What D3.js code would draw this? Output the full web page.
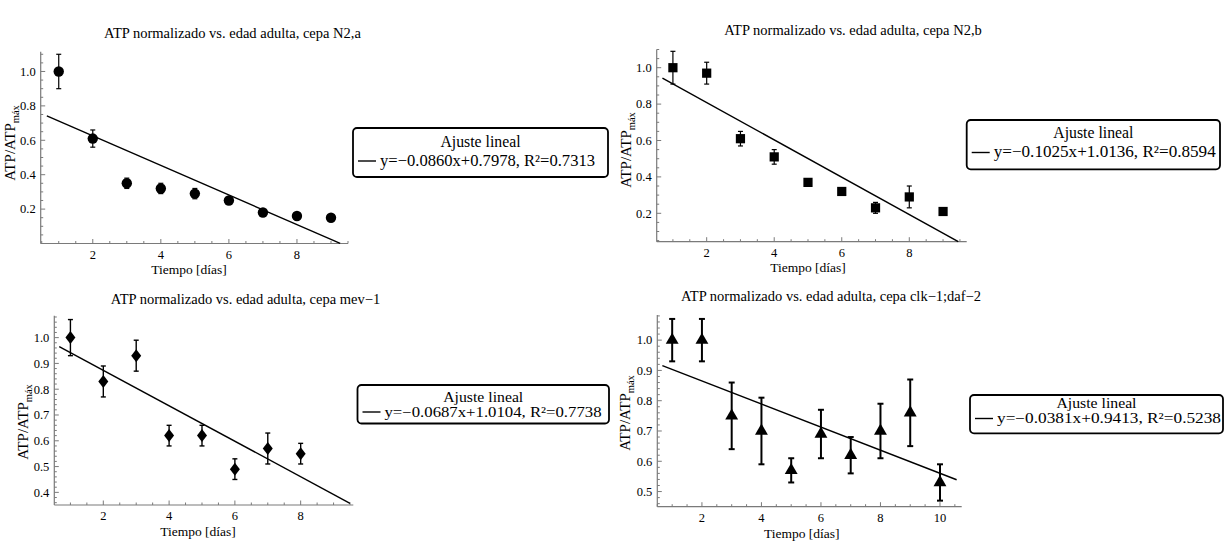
<!DOCTYPE html>
<html><head><meta charset="utf-8">
<script src="https://cdn.jsdelivr.net/npm/d3@7"></script>
<style>
body{margin:0;background:#fff}
svg text{font-family:"Liberation Serif","Times New Roman",serif;fill:#000}
</style>
</head><body>
<svg id="c" width="1225" height="542" font-family="Liberation Serif"></svg>
<script>
// ---------- DATA ----------
const titles = [
  "ATP normalizado vs. edad adulta, cepa N2,a",
  "ATP normalizado vs. edad adulta, cepa N2,b",
  "ATP normalizado vs. edad adulta, cepa mev\u22121",
  "ATP normalizado vs. edad adulta, cepa clk\u22121;daf\u22122"
];
const xLabel = "Tiempo [días]";
const yLabelMain = "ATP/ATP";
const yLabelSub = "máx";
const legendTitle = "Ajuste lineal";

const daysA = [1, 2, 3, 4, 5, 6, 7, 8, 9];
const atpA  = [1.00, 0.61, 0.35, 0.32, 0.29, 0.25, 0.18, 0.16, 0.15];
const errA  = [0.10, 0.05, 0.03, 0.03, 0.03, 0.015, 0.01, 0.01, 0.01];

const daysB = [1, 2, 3, 4, 5, 6, 7, 8, 9];
const atpB  = [1.00, 0.97, 0.61, 0.51, 0.37, 0.32, 0.23, 0.29, 0.21];
const errB  = [0.09, 0.06, 0.04, 0.04, 0.01, 0.01, 0.03, 0.06, 0.01];

const daysMev = [1, 2, 3, 4, 5, 6, 7, 8];
const atpMev  = [1.00, 0.83, 0.93, 0.62, 0.62, 0.49, 0.57, 0.55];
const errMev  = [0.07, 0.06, 0.06, 0.04, 0.04, 0.04, 0.06, 0.04];

const daysClk = [1, 2, 3, 4, 5, 6, 7, 8, 9, 10];
const atpClk  = [1.00, 1.00, 0.75, 0.70, 0.57, 0.69, 0.62, 0.70, 0.76, 0.53];
const errClk  = [0.07, 0.07, 0.11, 0.11, 0.04, 0.08, 0.06, 0.09, 0.11, 0.06];

const fitSlope     = [-0.0860, -0.1025, -0.0687, -0.0381];
const fitIntercept = [0.7978, 1.0136, 1.0104, 0.9413];
const fitR2        = [0.7313, 0.8594, 0.7738, 0.5238];
const fitSlopeText = ["\u22120.0860", "\u22120.1025", "\u22120.0687", "\u22120.0381"];
const fitInterText = ["0.7978", "1.0136", "1.0104", "0.9413"];
const fitR2Text    = ["0.7313", "0.8594", "0.7738", "0.5238"];

const xTicksA = [2, 4, 6, 8];
const xTicksB = [2, 4, 6, 8, 10];
const yTicksA = [0.2, 0.4, 0.6, 0.8, 1.0];
const yTicksB = [0.4, 0.5, 0.6, 0.7, 0.8, 0.9, 1.0];
const yTicksC = [0.5, 0.6, 0.7, 0.8, 0.9, 1.0];

// ---------- LAYOUT ----------
const panels = [
  { days: daysA, vals: atpA, errs: errA, xTicks: xTicksA, yTicks: yTicksA,
    xDom: [0.47, 9.5], xRange: [40.7, 348], yDom: [0, 1.115], yRange: [243.5, 51.7],
    yMinor: 0.05, fitX: [0.65, 9.27], marker: "circle", errW: 1.2, capW: 2.5,
    title: [232.5, 37.5], xl: [189, 30], yl: [15, 143],
    leg: { x: 353, y: 128, w: 255, h: 49, t1: 146.7, t2: 165.5, fs: 16, eqW: 215 } },
  { days: daysB, vals: atpB, errs: errB, xTicks: xTicksA, yTicks: yTicksA,
    xDom: [0.52, 9.7], xRange: [656.7, 966.7], yDom: [0.044, 1.10], yRange: [241.7, 49.5],
    yMinor: 0.05, fitX: [0.69, 9.45], marker: "square", errW: 1.2, capW: 2.5,
    title: [853, 35], xl: [808, 30], yl: [631, 150],
    leg: { x: 966.7, y: 120, w: 253.3, h: 49.3, t1: 138.3, t2: 157, fs: 16, eqW: 222 } },
  { days: daysMev, vals: atpMev, errs: errMev, xTicks: xTicksA, yTicks: yTicksB,
    xDom: [0.51, 9.6], xRange: [54.3, 353.3], yDom: [0.351, 1.085], yRange: [505, 315.7],
    yMinor: 0.02, fitX: [0.66, 9.5], marker: "diamond", errW: 1.4, capW: 2.5,
    title: [245.5, 304], xl: [198, 31], yl: [28, 422],
    leg: { x: 357.5, y: 385, w: 251.5, h: 38.5, t1: 402, t2: 416.5, fs: 14, eqW: 217 } },
  { days: daysClk, vals: atpClk, errs: errClk, xTicks: xTicksB, yTicks: yTicksC,
    xDom: [0.5, 10.73], xRange: [657.3, 961.7], yDom: [0.45, 1.083], yRange: [506.7, 315],
    yMinor: 0.02, fitX: [0.67, 10.56], marker: "triangle", errW: 2, capW: 3,
    title: [831, 301], xl: [801.7, 31], yl: [630, 413],
    leg: { x: 970, y: 395, w: 253, h: 38.3, t1: 408, t2: 423, fs: 14, eqW: 224 } }
];

const svg = d3.select("#c");
const axisColor = "#7a7a7a";

panels.forEach((p, i) => {
  const g = svg.append("g");
  const x = d3.scaleLinear().domain(p.xDom).range(p.xRange);
  const y = d3.scaleLinear().domain(p.yDom).range(p.yRange);
  const x0 = p.xRange[0], y0 = p.yRange[0];

  // title
  g.append("text").attr("x", p.title[0]).attr("y", p.title[1])
    .attr("text-anchor", "middle").attr("font-size", 14.5).text(titles[i]);

  // axes lines
  g.append("line").attr("x1", x0).attr("x2", p.xRange[1]).attr("y1", y0).attr("y2", y0)
    .attr("stroke", axisColor).attr("stroke-width", 1.2);
  g.append("line").attr("x1", x0).attr("x2", x0).attr("y1", y0).attr("y2", p.yRange[1])
    .attr("stroke", axisColor).attr("stroke-width", 1.2);

  // x ticks (major + minor, pointing into plot)
  const xMinor = d3.range(Math.ceil(p.xDom[0] * 2) / 2, p.xDom[1] + 1e-9, 0.5);
  xMinor.forEach(v => {
    const major = p.xTicks.some(t => Math.abs(t - v) < 1e-9);
    g.append("line").attr("x1", x(v)).attr("x2", x(v))
      .attr("y1", y0).attr("y2", y0 - (major ? 4.5 : 2.5))
      .attr("stroke", axisColor).attr("stroke-width", 1);
  });
  p.xTicks.forEach(t => {
    g.append("text").attr("x", x(t)).attr("y", y0 + 15.3).attr("text-anchor", "middle")
      .attr("font-size", 12.5).text(d3.format("d")(t));
  });

  // y ticks
  const yStart = Math.ceil(p.yDom[0] / p.yMinor - 1e-6) * p.yMinor;
  const yMinorVals = d3.range(yStart, p.yDom[1] + 1e-9, p.yMinor);
  yMinorVals.forEach(v => {
    const major = p.yTicks.some(t => Math.abs(t - v) < 1e-6);
    g.append("line").attr("x1", x0).attr("x2", x0 + (major ? 4.5 : 2.5))
      .attr("y1", y(v)).attr("y2", y(v))
      .attr("stroke", axisColor).attr("stroke-width", 1);
  });
  p.yTicks.forEach(t => {
    g.append("text").attr("x", x0 - 5).attr("y", y(t) + 4.3).attr("text-anchor", "end")
      .attr("font-size", 12.5).text(d3.format(".1f")(t));
  });

  // axis labels
  g.append("text").attr("x", p.xl[0]).attr("y", y0 + p.xl[1]).attr("text-anchor", "middle")
    .attr("font-size", 13.5).text(xLabel);
  const yt = g.append("text").attr("transform", `translate(${p.yl[0]},${p.yl[1]}) rotate(-90)`)
    .attr("text-anchor", "middle").attr("font-size", 15);
  yt.append("tspan").text(yLabelMain);
  yt.append("tspan").attr("font-size", 10.5).attr("dy", 3.5).text(yLabelSub);

  // fit line
  const line = d3.line().x(d => x(d)).y(d => y(fitSlope[i] * d + fitIntercept[i]));
  g.append("path").attr("d", line(p.fitX)).attr("fill", "none")
    .attr("stroke", "#000").attr("stroke-width", 1.4);

  // error bars
  const pts = p.days.map((d, k) => ({ d, v: p.vals[k], e: p.errs[k] }));
  const eb = g.append("g").attr("stroke", "#000").attr("stroke-width", p.errW);
  pts.forEach(o => {
    eb.append("line").attr("x1", x(o.d)).attr("x2", x(o.d))
      .attr("y1", y(o.v - o.e)).attr("y2", y(o.v + o.e));
    [o.v - o.e, o.v + o.e].forEach(w => {
      eb.append("line").attr("x1", x(o.d) - p.capW).attr("x2", x(o.d) + p.capW)
        .attr("y1", y(w)).attr("y2", y(w));
    });
  });

  // markers
  let sym;
  if (p.marker === "circle") sym = d3.symbol().type(d3.symbolCircle).size(85)();
  else if (p.marker === "square") sym = d3.symbol().type(d3.symbolSquare).size(85)();
  else if (p.marker === "triangle") sym = d3.symbol().type(d3.symbolTriangle).size(72)();
  else sym = "M0,-6.5L5,0L0,6.5L-5,0Z";
  g.selectAll(null).data(pts).enter().append("path")
    .attr("d", sym).attr("fill", "#000")
    .attr("transform", o => `translate(${x(o.d)},${y(o.v)})`);

  // legend
  const L = p.leg;
  g.append("rect").attr("x", L.x).attr("y", L.y).attr("width", L.w).attr("height", L.h)
    .attr("rx", 4).attr("fill", "#fff").attr("stroke", "#000").attr("stroke-width", 1.8);
  g.append("text").attr("x", L.x + L.w / 2).attr("y", L.t1).attr("text-anchor", "middle")
    .attr("font-size", L.fs).attr("textLength", 80).attr("lengthAdjust", "spacingAndGlyphs")
    .text(legendTitle);
  g.append("line").attr("x1", L.x + 5).attr("x2", L.x + 23)
    .attr("y1", L.t2 - 4.5).attr("y2", L.t2 - 4.5).attr("stroke", "#000").attr("stroke-width", 1.4);
  g.append("text").attr("x", L.x + 27).attr("y", L.t2).attr("font-size", L.fs)
    .attr("textLength", L.eqW).attr("lengthAdjust", "spacingAndGlyphs")
    .text(`y=${fitSlopeText[i]}x+${fitInterText[i]}, R²=${fitR2Text[i]}`);
});
</script>
</body></html>
